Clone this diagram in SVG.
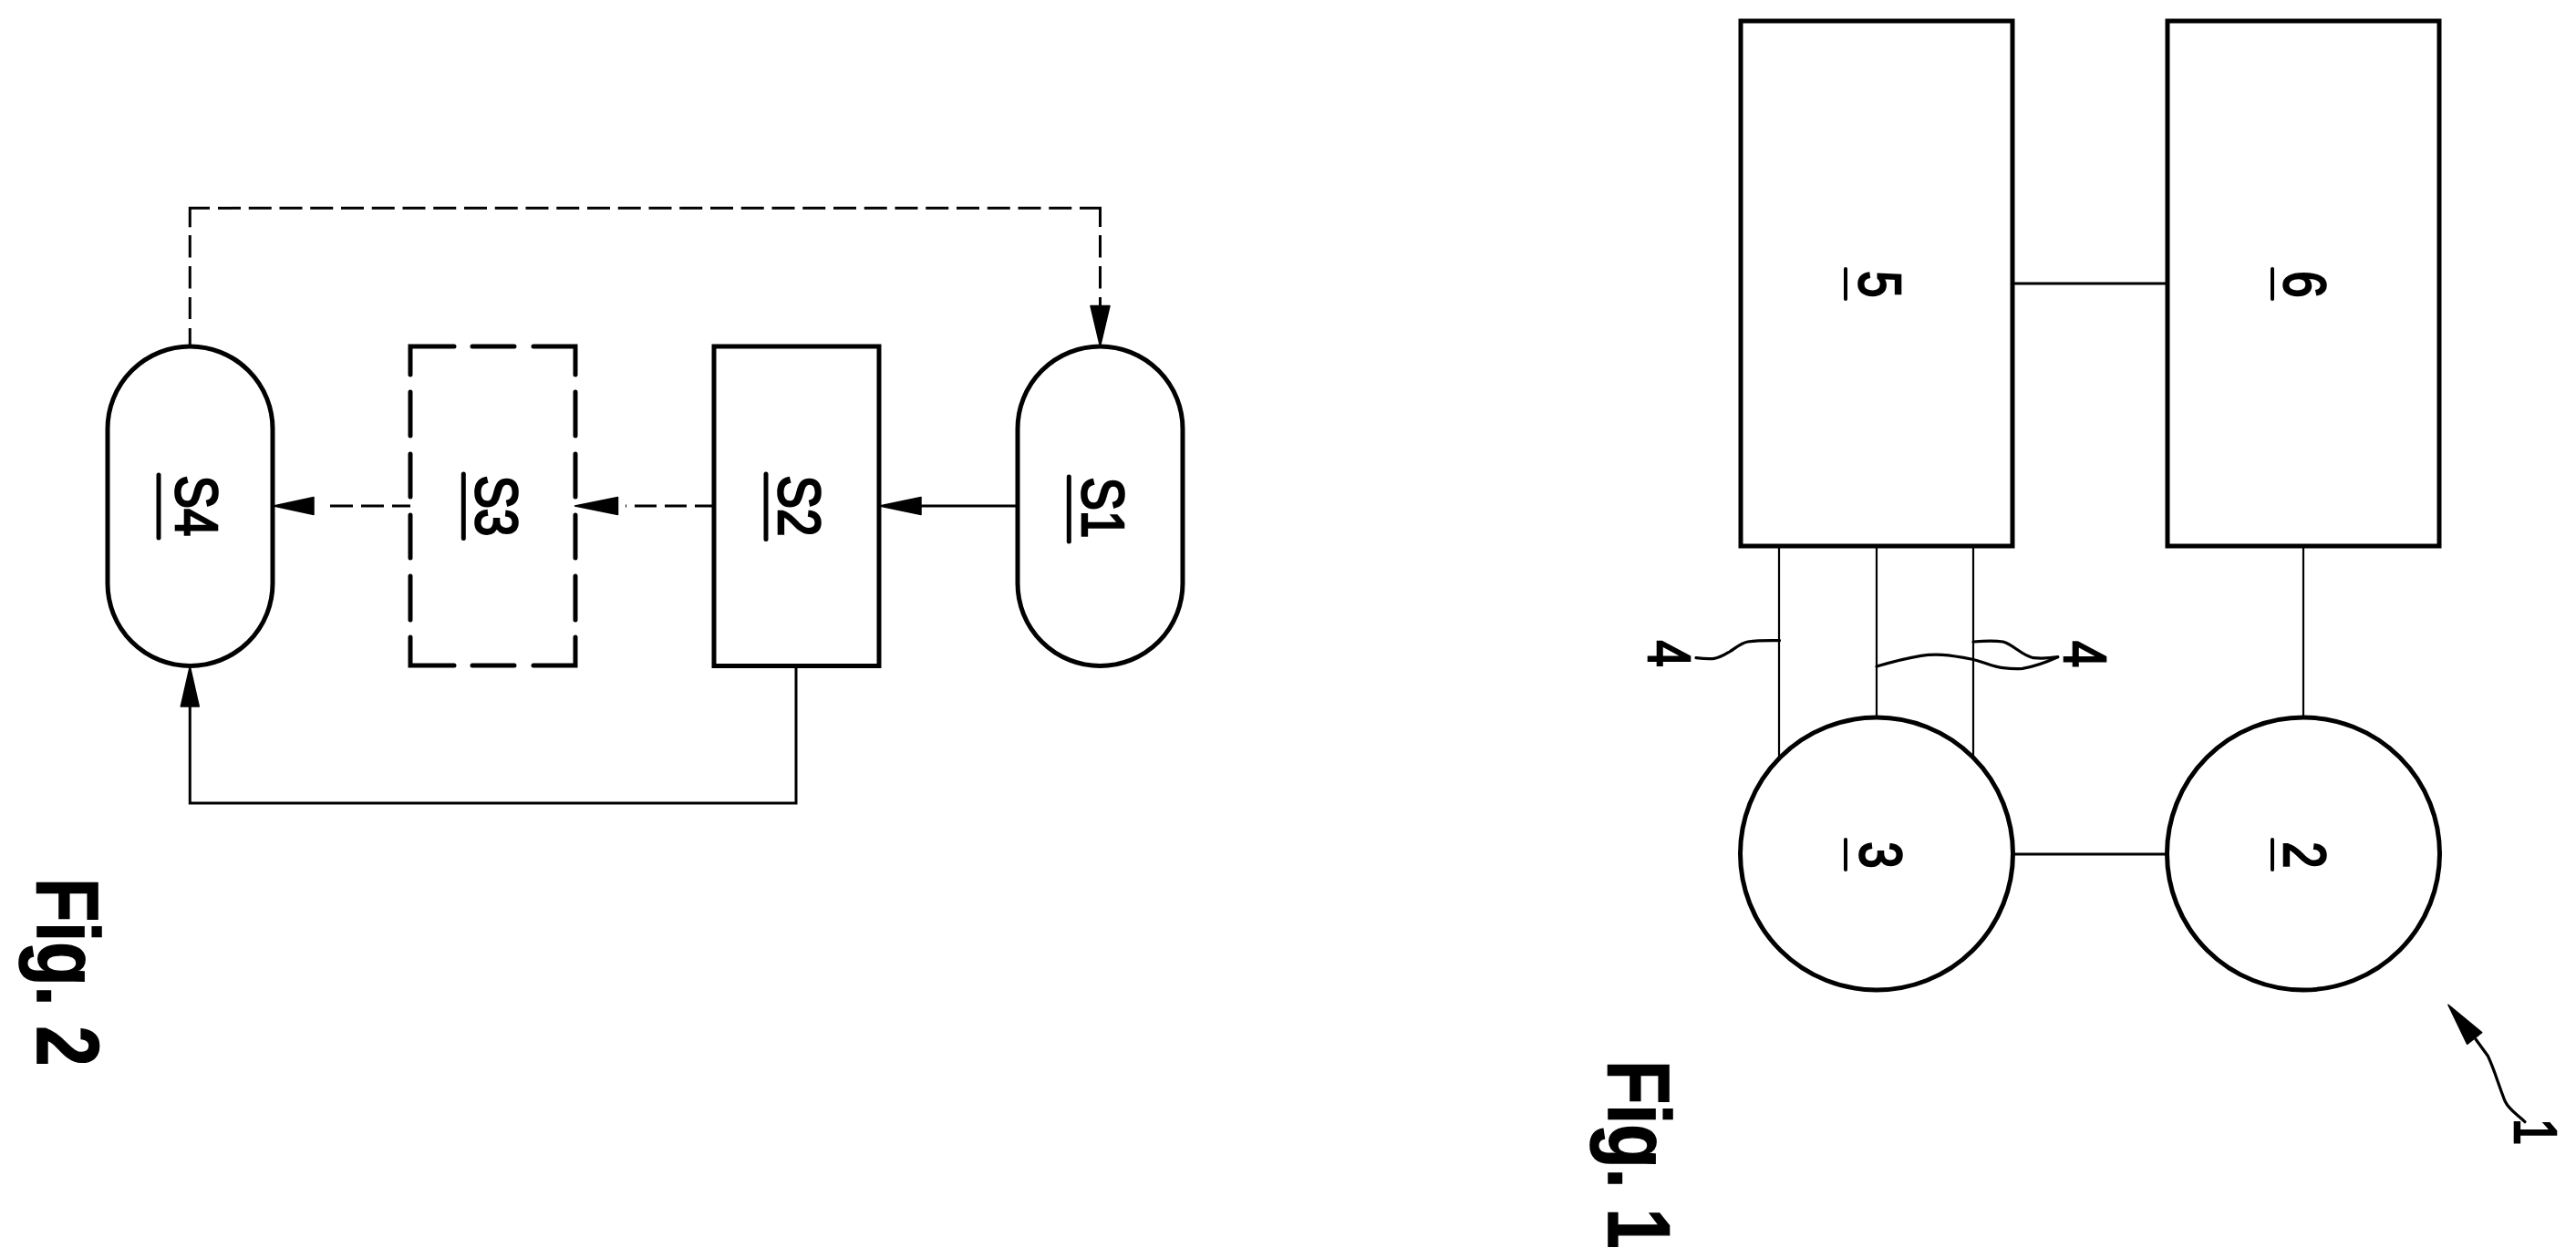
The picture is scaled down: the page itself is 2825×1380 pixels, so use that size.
<svg xmlns="http://www.w3.org/2000/svg" width="2825" height="1380" viewBox="0 0 2825 1380">
<style>
.shape{fill:none;stroke:#000;stroke-width:5}
.cap{stroke-linecap:round}
.ul{fill:none;stroke:#000;stroke-width:5;stroke-linecap:round}
.ulthin{fill:none;stroke:#000;stroke-width:4;stroke-linecap:round}
.thin{fill:none;stroke:#000;stroke-width:2.2}
.mid{fill:none;stroke:#000;stroke-width:3}
.lead{fill:none;stroke:#000;stroke-width:3.2;stroke-linecap:round;stroke-linejoin:round}
.hd{fill:#000;stroke:#000;stroke-width:1.5;stroke-linejoin:round}
.lbl{font-family:"Liberation Sans",Arial,sans-serif;font-size:65px;fill:#000;stroke:#000;stroke-width:2.6}
.m{text-anchor:middle}
.fig{font-family:"Liberation Sans",Arial,sans-serif;font-size:97px;font-weight:bold;fill:#000;stroke:#000;stroke-width:1.6}
</style>
<rect width="2825" height="1380" fill="#fff"/>
<g id="connectors">
<path class="mid" d="M208.3 378V360" />
<path class="mid" d="M208.3 258V350" stroke-dasharray="24.5 9.5"/>
<path class="mid" d="M208.3 249.3V228.3H230"/>
<path class="mid" d="M239 228.3H1184" stroke-dasharray="25 8.75"/>
<path class="mid" d="M1184 228.3H1206.5V249"/>
<path class="mid" d="M1206.5 258V336" stroke-dasharray="24.5 9.5"/>
<path class="hd" d="M1206.5 380L1196 335.500H1217Z"/>
<path class="mid" d="M1116 555H1008"/>
<path class="hd" d="M964.500 555L1010 545.500V564.500Z"/>
<path class="mid" d="M783 555H686" stroke-dasharray="21 9 24 9 24 9"/>
<path class="hd" d="M630.500 555L677.500 545.500V564.500Z"/>
<path class="mid" d="M450 555H353" stroke-dasharray="20 9 25 9 25 9"/>
<path class="hd" d="M300 555L344 545.500V564.500Z"/>
<path class="mid" d="M873 731V881H208.3V774"/>
<path class="hd" d="M208.3 731L198.300 775H218.300Z"/>
<path class="mid" d="M2207 311H2377"/>
<path class="mid" d="M2207 937H2377"/>
<path class="thin" d="M1951 600V831M2058 600V787M2164 600V831M2526 600V787"/>
<path class="lead" d="M1860 721.700C1868 722.500 1874 723 1880 722.300C1886 721.500 1890 719 1896.700 715C1903 711 1909 705.500 1916.700 704C1928 702.500 1940 702.500 1951.500 702.700"/>
<path class="lead" d="M2164 704C2175 703 2188 702.500 2196.700 704C2208 707 2217 719 2230 721.700C2240 722.500 2248 722 2256.700 720.700"/>
<path class="lead" d="M2058 731C2075 726 2090 722 2106.700 719.300C2115 718 2122 718 2130 718.300C2142 719 2152 721 2163 723.300C2175 726 2186 731.500 2196.700 732.700C2204 733.500 2211 734 2218 733.300C2232 731 2245 726 2256.700 720.700"/>
<path class="lead" d="M2715 1140L2728.300 1158.300C2735 1172 2740 1190 2747.300 1208.300C2752 1218 2760 1222 2769 1230.700"/>
<path class="hd" d="M2685 1102.300L2721.700 1132.700L2705.700 1145.300Z"/>
</g>
<g id="S4"><rect class="shape" x="118" y="380" width="181" height="350.500" rx="90.500" ry="90.500"/><path class="ul" d="M174 521V590"/><text class="lbl m" transform="translate(193,555) rotate(90) scale(.84,1)">S4</text></g>
<g id="S3"><path class="shape cap" d="M498 380H450V411M518 380H564M585 380H631V411M450 430V478M631 430V478M450 498V545M631 498V545M450 565V612M631 565V612M450 632V680M631 632V680M450 699V730H498M631 699V730H585M518 730H564"/><path class="ul" d="M508.300 520V590.500"/><text class="lbl m" transform="translate(522,555) rotate(90) scale(.84,1)">S3</text></g>
<g id="S2"><rect class="shape" x="783" y="380" width="181" height="350.500"/><path class="ul" d="M840 520V591.500"/><text class="lbl m" transform="translate(854,555) rotate(90) scale(.84,1)">S2</text></g>
<g id="S1"><rect class="shape" x="1116" y="380" width="181" height="350.500" rx="90.500" ry="90.500"/><path class="ul" d="M1172.300 523V594"/><text class="lbl m" transform="translate(1187,557) rotate(90) scale(.84,1)">S1</text></g>
<g id="fig2"><text class="fig" transform="translate(41,963) rotate(90) scale(.815,1)">Fig. 2</text></g>
<g id="n5"><rect class="shape" x="1909" y="23" width="298" height="576"/><path class="ulthin" d="M2024 295V328"/><text class="lbl m" transform="translate(2039,312) rotate(90) scale(.8,1)">5</text></g>
<g id="n6"><rect class="shape" x="2377" y="23" width="298" height="576"/><path class="ulthin" d="M2492 295V328"/><text class="lbl m" transform="translate(2505,312) rotate(90) scale(.8,1)">6</text></g>
<g id="n3"><circle class="shape" cx="2058" cy="936.500" r="149.500"/><path class="ulthin" d="M2024 921V954"/><text class="lbl m" transform="translate(2040,938) rotate(90) scale(.8,1)">3</text></g>
<g id="n2"><circle class="shape" cx="2526" cy="936.500" r="149.500"/><path class="ulthin" d="M2492 921V954"/><text class="lbl m" transform="translate(2505,938) rotate(90) scale(.8,1)">2</text></g>
<g id="ref4a"><text class="lbl m" transform="translate(1808,717) rotate(90) scale(.8,1)">4</text></g>
<g id="ref4b"><text class="lbl m" transform="translate(2264,717.500) rotate(90) scale(.8,1)">4</text></g>
<g id="ref1"><text class="lbl" transform="translate(2758,1227) rotate(90) scale(.8,1)">1</text></g>
<g id="fig1"><text class="fig" transform="translate(1764,1163) rotate(90) scale(.815,1)">Fig. 1</text></g>
</svg>
